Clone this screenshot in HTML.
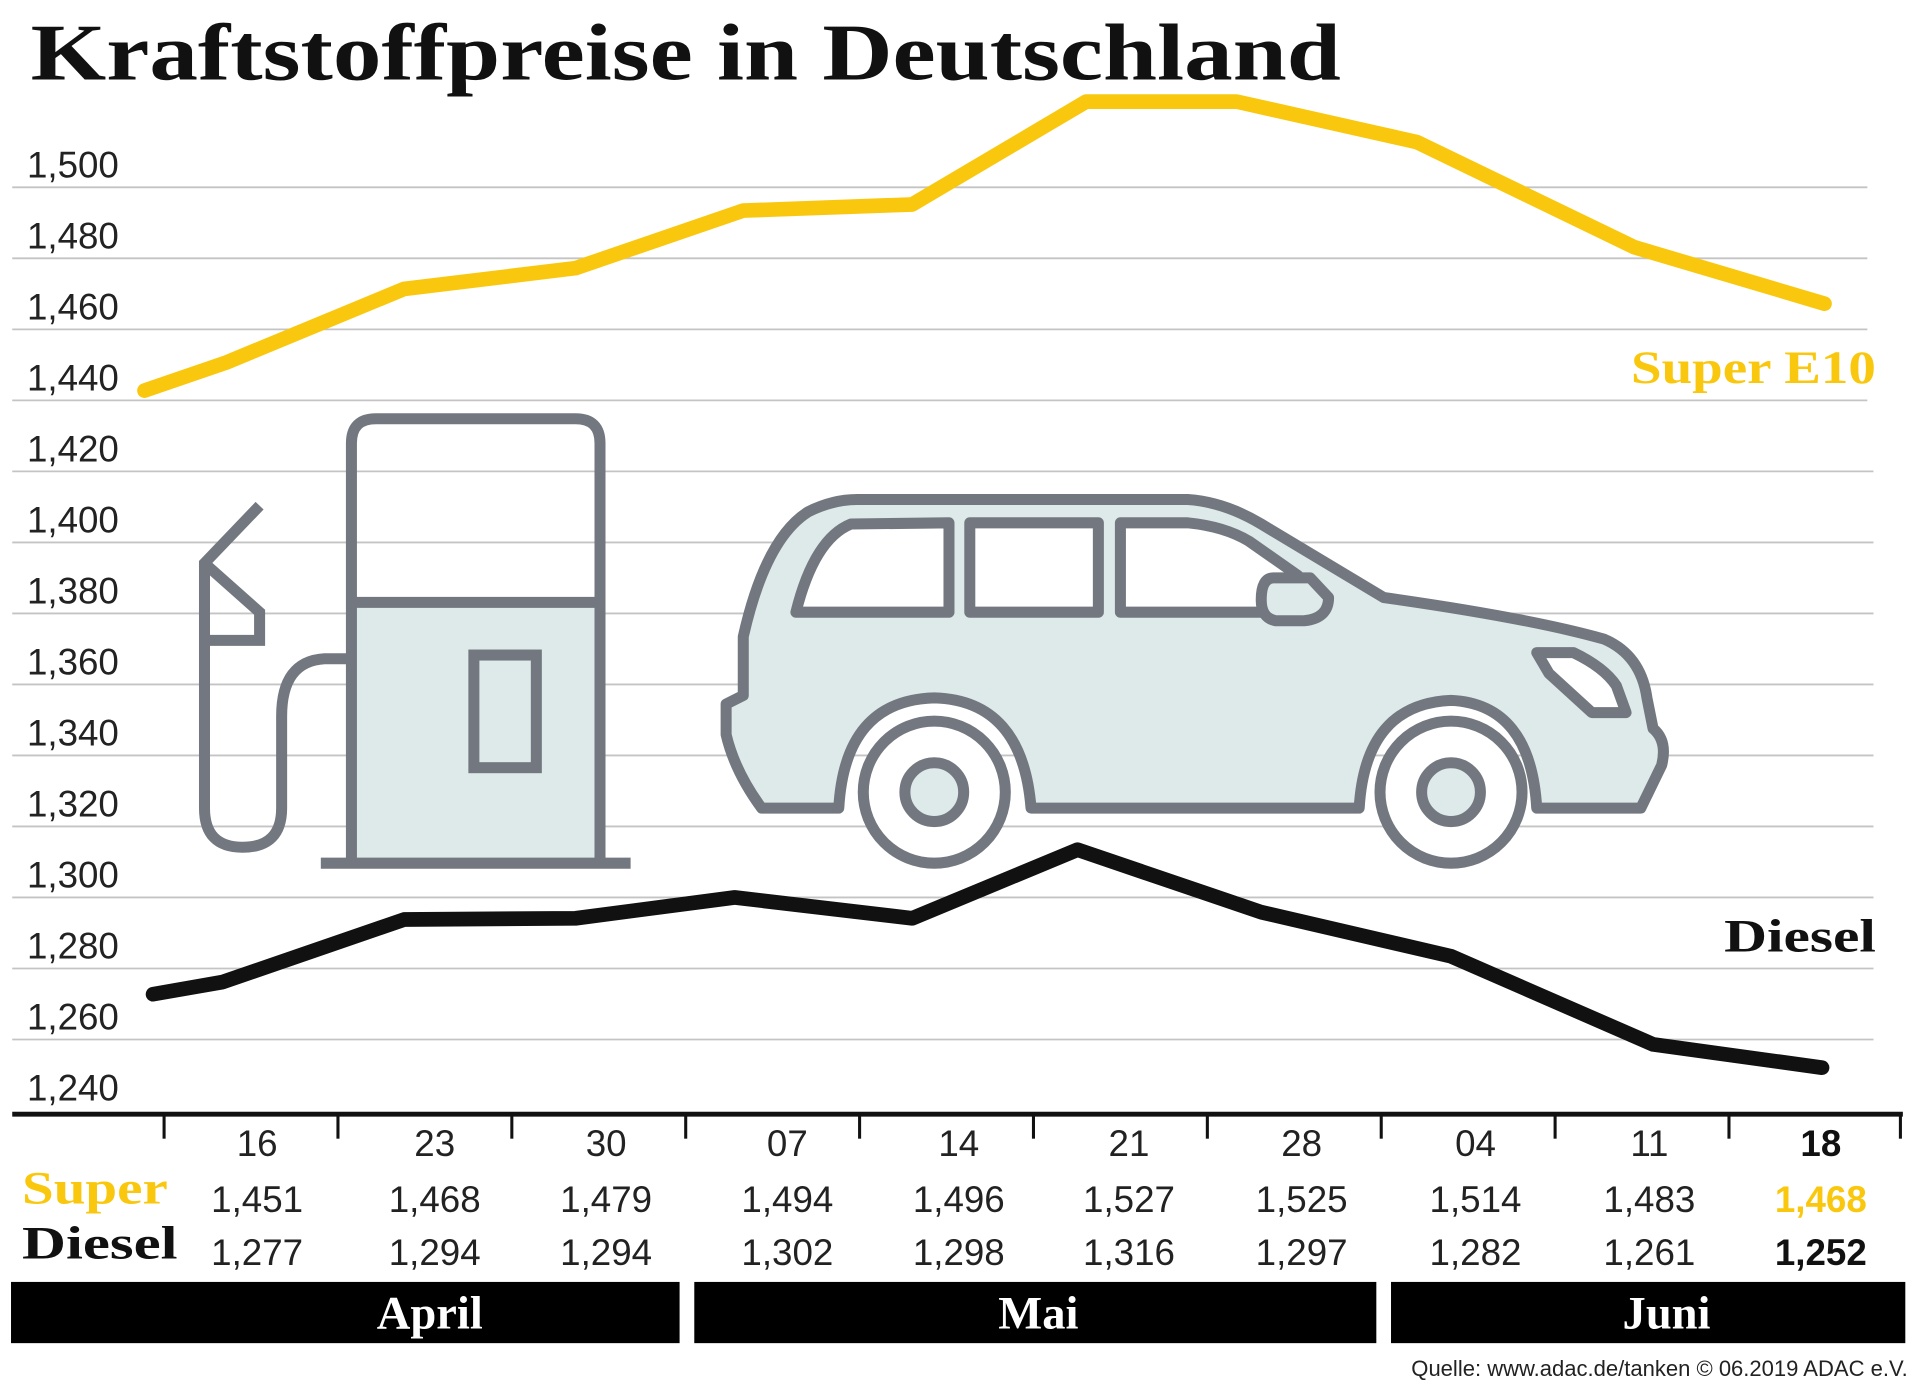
<!DOCTYPE html>
<html><head><meta charset="utf-8"><style>html,body{margin:0;padding:0;background:#fff}svg{display:block}</style></head>
<body>
<svg width="1920" height="1386" viewBox="0 0 1568 1132" preserveAspectRatio="none" xmlns="http://www.w3.org/2000/svg">
<rect width="1568" height="1132" fill="#fff"/>
<text x="25" y="65" font-family="Liberation Serif, serif" font-weight="bold" font-size="66" fill="#111" textLength="1070" lengthAdjust="spacingAndGlyphs">Kraftstoffpreise in Deutschland</text>
<g stroke="#c4c4c4" stroke-width="1.5">
<line x1="10" y1="153" x2="1525" y2="153"/><line x1="10" y1="211" x2="1525" y2="211"/><line x1="10" y1="269" x2="1525" y2="269"/><line x1="10" y1="327" x2="1525" y2="327"/><line x1="10" y1="385" x2="1530" y2="385"/><line x1="10" y1="443" x2="1530" y2="443"/><line x1="10" y1="501" x2="1530" y2="501"/><line x1="10" y1="559" x2="1530" y2="559"/><line x1="10" y1="617" x2="1530" y2="617"/><line x1="10" y1="675" x2="1530" y2="675"/><line x1="10" y1="733" x2="1530" y2="733"/><line x1="10" y1="791" x2="1530" y2="791"/><line x1="10" y1="849" x2="1530" y2="849"/>
</g>
<g font-family="Liberation Sans, sans-serif" font-size="30" fill="#222">
<text x="22" y="145">1,500</text><text x="22" y="203">1,480</text><text x="22" y="261">1,460</text><text x="22" y="319">1,440</text><text x="22" y="377">1,420</text><text x="22" y="435">1,400</text><text x="22" y="493">1,380</text><text x="22" y="551">1,360</text><text x="22" y="609">1,340</text><text x="22" y="667">1,320</text><text x="22" y="725">1,300</text><text x="22" y="783">1,280</text><text x="22" y="841">1,260</text><text x="22" y="899">1,240</text>
</g>
<!-- pump -->
<g stroke="#737880" stroke-width="9" fill="none" stroke-linejoin="miter">
<path d="M287 492 H490 V705 H287 Z" fill="#deeaea" stroke="none"/>
<path d="M287 705 V362 Q287 342 307 342 H470 Q490 342 490 362 V705"/>
<line x1="287" y1="492" x2="490" y2="492"/>
<line x1="262" y1="705" x2="515" y2="705"/>
<rect x="387" y="535" width="51" height="92"/>
<path d="M285 538 H265 Q230 540 230 585 V660 Q230 692 198 692 Q167 692 167 660 V460 L212 413"/>
<path d="M167 460 L212 500 V523 H170"/>
</g>
<!-- car -->
<g stroke="#737880" stroke-width="9" fill="#deeaea" stroke-linejoin="round">
<path d="M622 660 Q600 630 593 600 L593 575 L607 568 L607 520 Q625 440 660 418 Q680 408 700 408 H970 Q1000 410 1030 428 L1130 488 Q1250 505 1310 522 Q1340 535 1345 570 L1350 595 Q1362 605 1357 625 L1340 660 H1255 Q1250 575 1185 572 Q1115 575 1110 660 H842 Q835 572 763 570 Q690 572 685 660 Z"/>
<path d="M650 500 Q665 440 695 428 L775 427 V500 Z" fill="#fff"/>
<rect x="792" y="427" width="105" height="73" fill="#fff"/>
<path d="M915 427 H970 Q1000 430 1020 442 L1060 470 L1030 500 H915 Z" fill="#fff"/>
<path d="M1040 472 H1070 L1085 488 Q1085 505 1065 507 H1042 Q1030 505 1030 490 Q1030 472 1040 472 Z"/>
<path d="M1255 533 H1285 Q1310 545 1320 560 L1328 582 H1300 L1265 550 Z" fill="#fff"/>
<circle cx="763" cy="647" r="58" fill="#fff"/><circle cx="763" cy="647" r="24" fill="#deeaea"/>
<circle cx="1185" cy="647" r="58" fill="#fff"/><circle cx="1185" cy="647" r="24" fill="#deeaea"/>
</g>
<!-- series -->
<polyline fill="none" stroke="#f9c80e" stroke-width="12" stroke-linejoin="round" stroke-linecap="round" points="118,319 185,296 330,236 470,219 607,172 745,167 887,83 1010,83 1157,116 1335,202 1490,248"/>
<polyline fill="none" stroke="#111" stroke-width="12" stroke-linejoin="round" stroke-linecap="round" points="125,812 182,802 330,751 470,750 600,733 745,750 880,694 1030,745 1185,781 1350,853 1488,872"/>
<g font-family="Liberation Serif, serif" font-weight="bold" font-size="38">
<text x="1332" y="313" fill="#f9c80e" textLength="200" lengthAdjust="spacingAndGlyphs">Super E10</text>
<text x="1408" y="777" fill="#111" textLength="124" lengthAdjust="spacingAndGlyphs">Diesel</text>
</g>
<!-- axis -->
<rect x="10" y="908" width="1544" height="4" fill="#111"/>
<g stroke="#111" stroke-width="2.5">
<line x1="134" y1="910" x2="134" y2="930"/><line x1="276" y1="910" x2="276" y2="930"/><line x1="418" y1="910" x2="418" y2="930"/><line x1="560" y1="910" x2="560" y2="930"/><line x1="702" y1="910" x2="702" y2="930"/><line x1="844" y1="910" x2="844" y2="930"/><line x1="986" y1="910" x2="986" y2="930"/><line x1="1128" y1="910" x2="1128" y2="930"/><line x1="1270" y1="910" x2="1270" y2="930"/><line x1="1412" y1="910" x2="1412" y2="930"/><line x1="1552" y1="910" x2="1552" y2="930"/>
</g>
<g font-family="Liberation Sans, sans-serif" font-size="30" fill="#222" text-anchor="middle">
<text x="210" y="944">16</text><text x="355" y="944">23</text><text x="495" y="944">30</text><text x="643" y="944">07</text><text x="783" y="944">14</text><text x="922" y="944">21</text><text x="1063" y="944">28</text><text x="1205" y="944">04</text><text x="1347" y="944">11</text>
<text x="210" y="990">1,451</text><text x="355" y="990">1,468</text><text x="495" y="990">1,479</text><text x="643" y="990">1,494</text><text x="783" y="990">1,496</text><text x="922" y="990">1,527</text><text x="1063" y="990">1,525</text><text x="1205" y="990">1,514</text><text x="1347" y="990">1,483</text>
<text x="210" y="1033">1,277</text><text x="355" y="1033">1,294</text><text x="495" y="1033">1,294</text><text x="643" y="1033">1,302</text><text x="783" y="1033">1,298</text><text x="922" y="1033">1,316</text><text x="1063" y="1033">1,297</text><text x="1205" y="1033">1,282</text><text x="1347" y="1033">1,261</text>
<g font-weight="bold"><text x="1487" y="944" fill="#111">18</text><text x="1487" y="990" fill="#f9c80e">1,468</text><text x="1487" y="1033" fill="#111">1,252</text></g>
</g>
<g font-family="Liberation Serif, serif" font-weight="bold" font-size="38">
<text x="18" y="983" fill="#f9c80e" textLength="119" lengthAdjust="spacingAndGlyphs">Super</text>
<text x="18" y="1028" fill="#111" textLength="127" lengthAdjust="spacingAndGlyphs">Diesel</text>
</g>
<rect x="9" y="1047" width="546" height="50" fill="#000"/>
<rect x="567" y="1047" width="557" height="50" fill="#000"/>
<rect x="1136" y="1047" width="420" height="50" fill="#000"/>
<g font-family="Liberation Serif, serif" font-weight="bold" font-size="38" fill="#fff" text-anchor="middle">
<text x="351" y="1085">April</text><text x="848" y="1085">Mai</text><text x="1361" y="1085">Juni</text>
</g>
<text x="1558" y="1124" text-anchor="end" font-family="Liberation Sans, sans-serif" font-size="18" fill="#222">Quelle: www.adac.de/tanken   © 06.2019  ADAC e.V.</text>
</svg>
</body></html>
